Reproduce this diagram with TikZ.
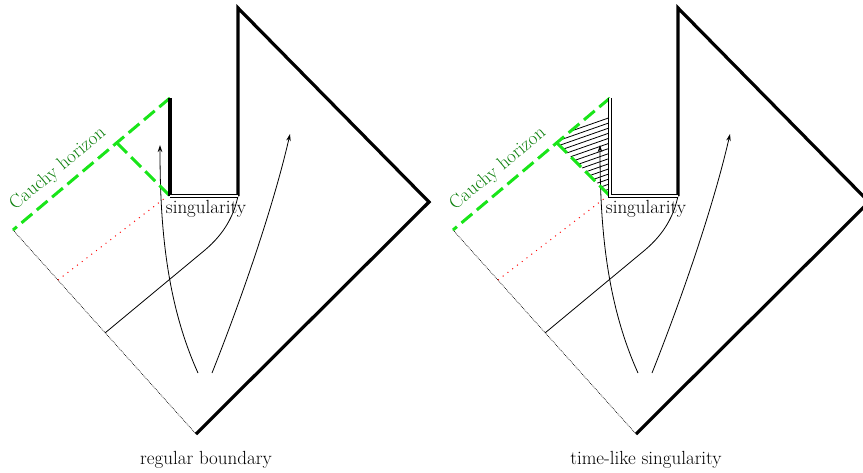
\documentclass[tikz,border=0pt]{standalone}
\usetikzlibrary{arrows.meta}
\definecolor{hgreen}{rgb}{0.1,0.9,0.1}
\definecolor{tgreen}{rgb}{0.05,0.5,0.05}
\tikzset{
  bound/.style={line width=3.2pt, line join=miter},
  singline/.style={double, line width=0.8pt, double distance=2.2pt},
  cauchy/.style={hgreen, line width=3pt, dash pattern=on 14pt off 6pt},
  fineline/.style={line width=0.8pt},
  dotline/.style={line width=0.7pt, dash pattern=on 0.7pt off 1pt},
  reddot/.style={red, line width=1pt, dash pattern=on 1pt off 5pt},
  traj/.style={line width=0.8pt, -{Stealth[length=7pt,width=4.5pt]}},
  lbl/.style={inner sep=0pt, font=\fontsize{19}{22}\selectfont},
  hatch/.style={line width=0.8pt},
}
\newcommand\penrosebase[3]{%
  % #1 prefix, #2 xshift, #3 bottom label
  \begin{scope}[xshift=#2]
  \coordinate (#1B) at (196,434);
  \coordinate (#1R) at (429,202);
  \coordinate (#1T) at (238,8);
  \coordinate (#1S2) at (238,196);
  \coordinate (#1S1) at (170,196);
  \coordinate (#1V) at (170,98);
  \coordinate (#1C) at (13,230);
  \coordinate (#1M) at (117,143);
  \coordinate (#1P) at (58,280);
  \coordinate (#1X) at (165,198);
  \coordinate (#1Q) at (105,333);
  \coordinate (#1K) at (205,250);
  \coordinate (#1A1) at (198,373);
  \coordinate (#1A1e) at (160,145);
  \coordinate (#1A2) at (212,373);
  \coordinate (#1A2e) at (290,134);
  \draw[bound] (#1B) -- (#1R) -- (#1T) -- (#1S2);
  \draw[dotline] (#1C) -- (#1B);
  \draw[reddot] (#1P) -- (#1X);
  \draw[fineline] (#1Q) -- (#1K) .. controls (225,233) and (234,215) .. (#1S2);
  \draw[traj] (#1A1) .. controls (165,300) and (160,220) .. (#1A1e);
  \draw[traj] (#1A2) .. controls (245,290) and (275,200) .. (#1A2e);
  \node[lbl] (#1sing) at (206,209) {singularity};
  \node[lbl] (#1bot) at (206,460) {#3};
  \node[lbl, tgreen, rotate=39.8] (#1cauchy) at (58,169) {Cauchy horizon};
  \end{scope}%
}
\begin{document}
\begin{tikzpicture}[x=1pt,y=-1pt]
\useasboundingbox (0,0) rectangle (863,472);
\clip (0,0) rectangle (863,472);
% left diagram
\penrosebase{l}{0pt}{regular boundary}
\draw[cauchy] (lV) -- (lC);
\draw[cauchy] (lM) -- (lS1);
\draw[bound] (lS1) -- (lV);
\draw[singline] (lS1) -- (lS2);
% right diagram
\penrosebase{r}{440pt}{time-like singularity}
\begin{scope}
  \clip (rV) -- (rM) -- (rS1) -- cycle;
  \foreach \k in {0,...,22} {
    \draw[hatch] ([yshift=-\k*5.1pt]rM) ++(-20,0) -- ++(120,-42);
  }
\end{scope}
\draw[cauchy] (rV) -- (rC);
\draw[cauchy] (rM) -- (rS1);
\draw[singline] (rV) -- (rS1) -- (rS2);
\end{tikzpicture}
\end{document}
